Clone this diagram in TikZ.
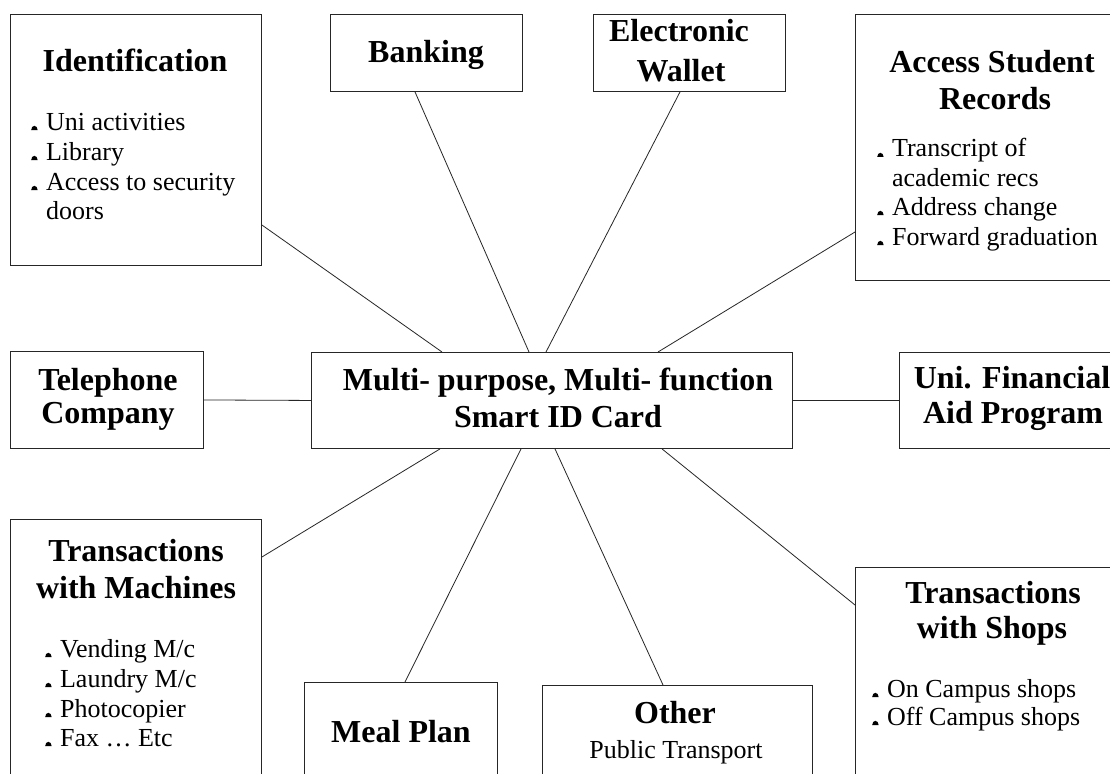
\documentclass[tikz,border=0pt]{standalone}
\usepackage{fontspec}
\setmainfont{Liberation Serif}
\usetikzlibrary{calc}
\newcommand\hbul{\tikz[x=1pt,y=1pt,baseline=0pt]\fill[black] (0,0) arc[start angle=180,end angle=0,x radius=3.2,y radius=4.2] -- cycle;}
\tikzset{
  box/.style={draw=black!85, line width=0.9pt, rectangle, inner sep=0pt, anchor=north west, fill=white},
  head/.style={inner sep=0pt, anchor=base, font=\fontsize{32}{37}\selectfont\bfseries},
  item/.style={inner sep=0pt, anchor=base west, font=\fontsize{26}{30}\selectfont},
  plain/.style={inner sep=0pt, anchor=base, font=\fontsize{26}{30}\selectfont},
  link/.style={draw=black!85, line width=0.8pt}
}
\newcommand\bl[1]{\hbul\hspace{8.5pt}#1}
\begin{document}
\begin{tikzpicture}[x=1pt,y=-1pt]
\useasboundingbox (0,0) rectangle (1110,773);
\fill[white] (0,0) rectangle (1110,773);
\clip (0,0) rectangle (1110,773);

% boxes
\node[box, minimum width=251pt, minimum height=251pt] (ident) at (10,14) {};
\node[box, minimum width=192pt, minimum height=77pt] (bank) at (330,14) {};
\node[box, minimum width=192pt, minimum height=77pt] (wallet) at (593,14) {};
\node[box, minimum width=300pt, minimum height=266pt] (access) at (855,14) {};
\node[box, minimum width=193pt, minimum height=97pt] (tel) at (10,351) {};
\node[box, minimum width=481pt, minimum height=96pt] (card) at (311,352) {};
\node[box, minimum width=300pt, minimum height=96pt] (fin) at (899,352) {};
\node[box, minimum width=251pt, minimum height=300pt] (mach) at (10,519) {};
\node[box, minimum width=193pt, minimum height=200pt] (meal) at (304,682) {};
\node[box, minimum width=270pt, minimum height=200pt] (other) at (542,685) {};
\node[box, minimum width=300pt, minimum height=300pt] (shops) at (855,567) {};

% connectors
\draw[link] ($(ident.north east)+(0,211)$) -- ($(card.north west)+(131,0)$);
\draw[link] ($(bank.south west)+(85,0)$) -- ($(card.north west)+(218,0)$);
\draw[link] ($(wallet.south west)+(87,0)$) -- ($(card.north west)+(235,0)$);
\draw[link] ($(access.north west)+(0,218)$) -- ($(card.north west)+(347,0)$);
\draw[link] (tel.east) -- (card.west);
\draw[link] (card.east) -- (fin.west);
\draw[link] ($(mach.north east)+(0,38)$) -- ($(card.south west)+(129,0)$);
\draw[link] ($(meal.north west)+(101,0)$) -- ($(card.south west)+(210,0)$);
\draw[link] ($(other.north west)+(121,0)$) -- ($(card.south west)+(244,0)$);
\draw[link] ($(shops.north west)+(0,38)$) -- ($(card.south west)+(351,0)$);

% Identification
\node[head] (identh) at (135,72) {Identification};
\node[item] (ident1) at (31,130) {\bl{Uni activities}};
\node[item] (ident2) at (31,160) {\bl{Library}};
\node[item] (ident3) at (31,190) {\bl{Access to security}};
\node[item] (ident4) at (45.9,219) {doors};

% Banking / Wallet
\node[head] (bankh) at (426,63) {Banking};
\node[head] (walleth1) at (679,42) {Electronic};
\node[head] (walleth2) at (681,82) {Wallet};

% Access Student Records
\node[head] (accessh1) at (992,73) {Access Student};
\node[head] (accessh2) at (995,110) {Records};
\node[item] (access1) at (877,157) {\bl{Transcript of}};
\node[item] (access2) at (891.9,186) {academic recs};
\node[item] (access3) at (877,215) {\bl{Address change}};
\node[item] (access4) at (877,245) {\bl{Forward graduation}};

% Telephone
\node[head] (telh1) at (108,390) {Telephone};
\node[head] (telh2) at (108,423) {Company};

% Center
\node[head] (cardh1) at (558,390) {Multi- purpose, Multi- function};
\node[head] (cardh2) at (558,427) {Smart ID Card};

% Financial aid
\node[head] (finh1) at (1012,388) {Uni. Financial};
\node[head] (finh2) at (1013,423) {Aid Program};

% Machines
\node[head] (machh1) at (136,561) {Transactions};
\node[head] (machh2) at (136,598) {with Machines};
\node[item] (mach1) at (45,657) {\bl{Vending M/c}};
\node[item] (mach2) at (45,687) {\bl{Laundry M/c}};
\node[item] (mach3) at (45,717) {\bl{Photocopier}};
\node[item] (mach4) at (45,746) {\bl{Fax \dots\ Etc}};

% Meal plan
\node[head] (mealh) at (401,742) {Meal Plan};

% Other
\node[head] (otherh) at (675,723) {Other};
\node[plain] (other1) at (676,758) {Public Transport};

% Shops
\node[head] (shopsh1) at (993,603) {Transactions};
\node[head] (shopsh2) at (992,638) {with Shops};
\node[item] (shops1) at (872,697) {\bl{On Campus shops}};
\node[item] (shops2) at (872,725) {\bl{Off Campus shops}};
\end{tikzpicture}
\end{document}
